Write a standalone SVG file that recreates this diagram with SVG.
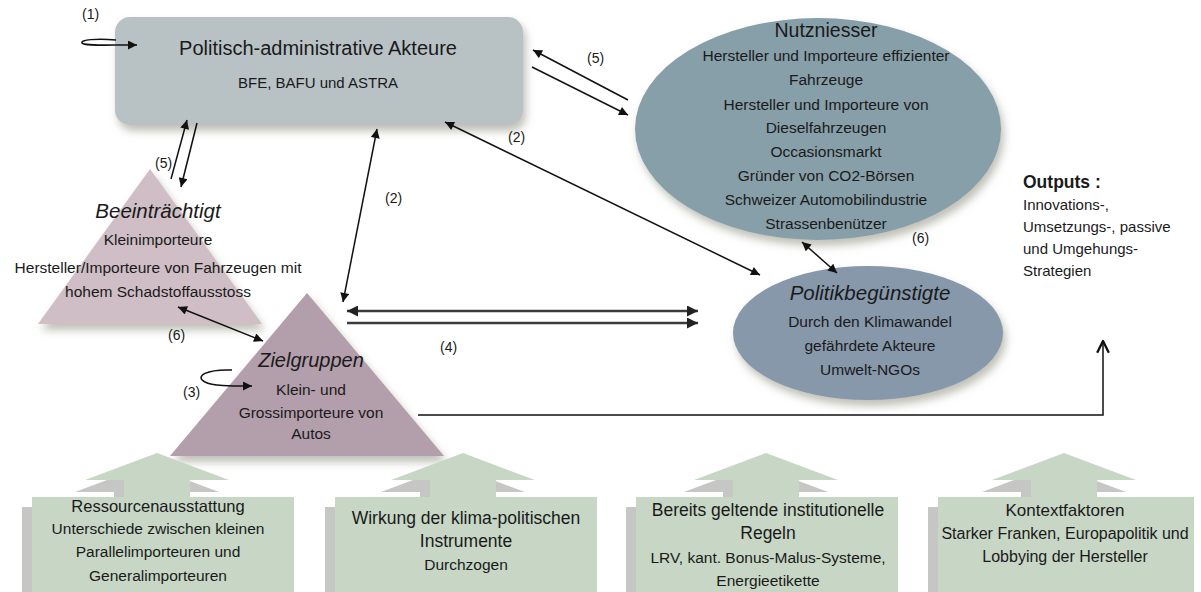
<svg xmlns="http://www.w3.org/2000/svg" width="1201" height="592" viewBox="0 0 1201 592">
<style>
.t{font-family:"Liberation Sans",Arial,sans-serif;fill:#1a1a1a;text-anchor:middle;font-size:15.5px}
.h{font-size:20px}
.i{font-style:italic;font-size:20.5px}
.l{font-family:"Liberation Sans",Arial,sans-serif;fill:#1a1a1a;font-size:14px}
.c{fill:none;stroke:#111;stroke-width:1.5}
.c4{fill:none;stroke:#3c3c3c;stroke-width:2.5}
.grn{fill:#c7d6c5}
.gry{fill:#c6c6c4}
</style>
<defs>
<filter id="sh" x="-20%" y="-20%" width="140%" height="150%">
<feGaussianBlur in="SourceAlpha" stdDeviation="4"/>
<feOffset dx="3" dy="6" result="b"/>
<feFlood flood-color="#8c8c7c" flood-opacity="0.55"/>
<feComposite in2="b" operator="in"/>
<feMerge><feMergeNode/><feMergeNode in="SourceGraphic"/></feMerge>
</filter>
<marker id="ah" viewBox="0 0 10 10" refX="10" refY="5" markerWidth="11" markerHeight="9" markerUnits="userSpaceOnUse" orient="auto-start-reverse">
<path d="M0,0 L10,5 L0,10 z" fill="#111"/>
</marker>
<marker id="ah4" viewBox="0 0 10 10" refX="10" refY="5" markerWidth="13" markerHeight="11" markerUnits="userSpaceOnUse" orient="auto-start-reverse">
<path d="M0,0 L10,5 L0,10 z" fill="#222"/>
</marker>
<marker id="open" viewBox="0 0 12 12" refX="11" refY="6" markerWidth="14" markerHeight="14" markerUnits="userSpaceOnUse" orient="auto">
<path d="M1,1 L11,6 L1,11" fill="none" stroke="#111" stroke-width="2"/>
</marker>
<path id="barrow" d="M0,0 L72,27 L33,27 L33,45 L-33,45 L-33,27 L-72,27 z"/>
</defs>

<g id="node-politisch">
<rect x="115" y="17" width="408" height="108" rx="15" fill="#b8c2c5" filter="url(#sh)"/>
<text class="t h" x="318" y="55">Politisch-administrative Akteure</text>
<text class="t" x="318" y="88" style="font-size:15px">BFE, BAFU und ASTRA</text>
</g>

<g id="node-nutzniesser">
<ellipse cx="818" cy="129" rx="183" ry="111" fill="#879fa8" filter="url(#sh)"/>
<text class="t" x="826" y="37" style="font-size:19.5px">Nutzniesser</text>
<text class="t" x="826" y="61">Hersteller und Importeure effizienter</text>
<text class="t" x="826" y="85">Fahrzeuge</text>
<text class="t" x="826" y="110">Hersteller und Importeure von</text>
<text class="t" x="826" y="133">Dieselfahrzeugen</text>
<text class="t" x="826" y="157">Occasionsmarkt</text>
<text class="t" x="826" y="181">Gründer von CO2-Börsen</text>
<text class="t" x="826" y="205">Schweizer Automobilindustrie</text>
<text class="t" x="826" y="229">Strassenbenützer</text>
</g>

<g id="node-politikbeguenstigte">
<ellipse cx="868" cy="333" rx="135" ry="67" fill="#8698aa" filter="url(#sh)"/>
<text class="t i" x="870" y="300">Politikbegünstigte</text>
<text class="t" x="870" y="327">Durch den Klimawandel</text>
<text class="t" x="870" y="351">gefährdete Akteure</text>
<text class="t" x="870" y="375">Umwelt-NGOs</text>
</g>

<g id="node-beeintraechtigt">
<polygon points="150,169 262,324 38,324" fill="#cfbec5" filter="url(#sh)"/>
<text class="t i" x="158" y="218">Beeinträchtigt</text>
<text class="t" x="158" y="245">Kleinimporteure</text>
<text class="t" x="158" y="273">Hersteller/Importeure von Fahrzeugen mit</text>
<text class="t" x="158" y="297">hohem Schadstoffausstoss</text>
</g>

<g id="node-zielgruppen">
<polygon points="307,293 444,456 170,456" fill="#b39eab" filter="url(#sh)"/>
<text class="t i" x="311" y="367" style="font-size:20px">Zielgruppen</text>
<text class="t" x="311" y="395">Klein- und</text>
<text class="t" x="311" y="418">Grossimporteure von</text>
<text class="t" x="311" y="439">Autos</text>
</g>

<g id="node-outputs">
<text class="l" x="1023" y="188" style="font-weight:bold;font-size:17.5px">Outputs :</text>
<text class="l" x="1023" y="210" style="font-size:15px">Innovations-,</text>
<text class="l" x="1023" y="232" style="font-size:15px">Umsetzungs-, passive</text>
<text class="l" x="1023" y="254" style="font-size:15px">und Umgehungs-</text>
<text class="l" x="1023" y="276" style="font-size:15px">Strategien</text>
</g>

<g id="node-ressourcen">
<use href="#barrow" x="147" y="465" class="gry"/>
<rect x="22" y="507" width="262" height="90" class="gry"/>
<use href="#barrow" x="157" y="453" class="grn"/>
<rect x="32" y="497" width="262" height="95" class="grn"/>
<text class="t" x="158" y="512" style="font-size:16.5px">Ressourcenausstattung</text>
<text class="t" x="158" y="534">Unterschiede zwischen kleinen</text>
<text class="t" x="158" y="557">Parallelimporteuren und</text>
<text class="t" x="158" y="581">Generalimporteuren</text>
</g>

<g id="node-wirkung">
<use href="#barrow" x="453" y="465" class="gry"/>
<rect x="325" y="507" width="262" height="90" class="gry"/>
<use href="#barrow" x="463" y="453" class="grn"/>
<rect x="335" y="497" width="262" height="95" class="grn"/>
<text class="t" x="466" y="524" style="font-size:17.5px">Wirkung der klima-politischen</text>
<text class="t" x="466" y="547" style="font-size:17.5px">Instrumente</text>
<text class="t" x="466" y="570">Durchzogen</text>
</g>

<g id="node-regeln">
<use href="#barrow" x="756" y="465" class="gry"/>
<rect x="626" y="507" width="262" height="90" class="gry"/>
<use href="#barrow" x="766" y="453" class="grn"/>
<rect x="636" y="497" width="262" height="95" class="grn"/>
<text class="t" x="768" y="516" style="font-size:17.5px">Bereits geltende institutionelle</text>
<text class="t" x="768" y="539" style="font-size:17.5px">Regeln</text>
<text class="t" x="768" y="563">LRV, kant. Bonus-Malus-Systeme,</text>
<text class="t" x="768" y="586">Energieetikette</text>
</g>

<g id="node-kontext">
<use href="#barrow" x="1054" y="465" class="gry"/>
<rect x="928" y="507" width="262" height="90" class="gry"/>
<use href="#barrow" x="1064" y="453" class="grn"/>
<rect x="938" y="497" width="256" height="95" class="grn"/>
<text class="t" x="1065" y="516" style="font-size:17px">Kontextfaktoren</text>
<text class="t" x="1065" y="539" style="font-size:16px">Starker Franken, Europapolitik und</text>
<text class="t" x="1065" y="562" style="font-size:16px">Lobbying der Hersteller</text>
</g>

<g id="connectors">
<path class="c" d="M116,40 C96,38 80,40 82,43 C84,46 100,45 137,45" marker-end="url(#ah)"/>
<path class="c" d="M628,100 L533,50" marker-end="url(#ah)"/>
<path class="c" d="M532,67 L628,115" marker-end="url(#ah)"/>
<path class="c" d="M445,122 L760,275" marker-start="url(#ah)" marker-end="url(#ah)"/>
<path class="c" d="M802,242 L837,273" marker-start="url(#ah)" marker-end="url(#ah)"/>
<path class="c" d="M377,129 L343,302" marker-start="url(#ah)" marker-end="url(#ah)"/>
<path class="c" d="M171,179 L187,120" marker-end="url(#ah)"/>
<path class="c" d="M197,123 L181,187" marker-end="url(#ah)"/>
<path class="c" d="M178,307 L263,341" marker-start="url(#ah)" marker-end="url(#ah)"/>
<path class="c" d="M232,370 C207,369 194,376 205,382 C212,386 230,386 252,386" marker-end="url(#ah)"/>
<path class="c4" d="M347,311 L698,311" marker-start="url(#ah4)" marker-end="url(#ah4)"/>
<path class="c4" d="M347,323 L698,323" marker-end="url(#ah4)"/>
<path class="c" d="M418,415 H1103 V341" marker-end="url(#open)"/>
<text class="l" x="82" y="19">(1)</text>
<text class="l" x="587" y="63">(5)</text>
<text class="l" x="508" y="142">(2)</text>
<text class="l" x="912" y="243">(6)</text>
<text class="l" x="385" y="203">(2)</text>
<text class="l" x="155" y="168">(5)</text>
<text class="l" x="168" y="340">(6)</text>
<text class="l" x="183" y="397">(3)</text>
<text class="l" x="440" y="352">(4)</text>
</g>
</svg>
